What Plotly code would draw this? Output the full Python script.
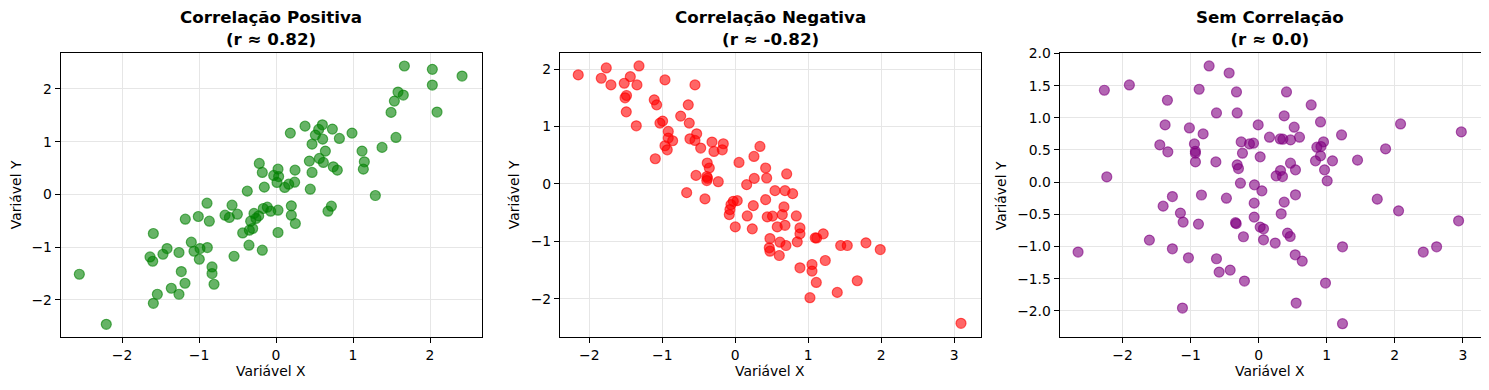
import plotly.graph_objects as go

# page is rendered with an 8px body margin; figure coords = page coords - OFF
OFF = 8
PAGE_W, PAGE_H = 1489, 390
W, H = PAGE_W - OFF, PAGE_H - OFF

# ---------------- data ----------------
pos_x = [-0.217, -0.178, -0.152, -0.373, 1.667, 2.03, 2.416, 2.03, 1.584, 1.653, 1.537, 1.494, 2.091,
         0.186, 0.377, 0.602, 0.554, 0.511, 0.606, 0.732, 0.823, 0.987, 0.468, 0.641, 1.558, 1.377,
         1.117, 1.147, 1.134, 0.433, 0.563, 0.615, 0.744, 0.796, 0.468, 0.247, 0.026, -0.03, 0.034,
         0.013, 0.242, 0.165, 0.113, 0.445, 1.29,
         -0.896, -0.571, -1.178, -1.009, -0.866, -0.662, -0.606, -0.502, -0.286, -0.225, -0.26, -0.329,
         -0.165, -0.113, -0.069, -0.433, -0.346, -0.303, -0.351, -0.178, -0.545, -1.593, -1.1, -1.415,
         -1.468, -1.636, -1.601, -1.26, -1.065, -0.987, -0.892, -0.996, -0.831, -0.831, -0.805, -1.23,
         -1.182, -1.36, -1.26, -1.541, -1.593, -2.554, -2.204,
         0.026, 0.199, 0.199, 0.251, 0.026, 0.719, 0.675]
pos_y = [0.588, 0.417, 0.139, 0.063, 2.435, 2.372, 2.245, 2.074, 1.941, 1.884, 1.77, 1.556, 1.562,
         1.163, 1.295, 1.321, 1.233, 1.125, 1.049, 1.239, 1.062, 1.163, 0.954, 0.822, 1.081, 0.892,
         0.822, 0.619, 0.48, 0.632, 0.683, 0.607, 0.524, 0.461, 0.417, 0.461, 0.48, 0.36, 0.34,
         0.228, 0.233, 0.195, 0.133, 0.1, -0.02,
         -0.165, -0.203, -0.469, -0.418, -0.507, -0.393, -0.436, -0.374, -0.36, -0.406, -0.455, -0.507,
         -0.266, -0.241, -0.317, -0.729, -0.677, -0.645, -0.962, -1.057, -1.171, -0.74, -0.905, -1.025,
         -1.133, -1.184, -1.266, -1.1, -1.076, -1.025, -1.006, -1.228, -1.374, -1.499, -1.702, -1.461,
         -1.683, -1.778, -1.892, -1.892, -2.063, -1.512, -2.461,
         -0.298, -0.216, -0.393, -0.55, -0.721, -0.222, -0.317]

neg_x = [-2.151, -1.767, -1.836, -1.703, -1.319, -1.438, -1.521, -1.347, -1.49, -1.51, -1.493, -1.356,
         -0.963, -0.552, -1.11, -1.077, -0.644, -0.748, -0.63, -0.995, -1.032, -0.918, -0.918, -0.858,
         -0.963, -0.932, -1.096, -0.529, -0.621, -0.552, -0.474, -0.319, -0.292, -0.164, -0.178, -0.384,
         -0.356, -0.39, -0.38, -0.39, -0.538, -0.233, 0.051, 0.256, 0.338, 0.416, 0.43, 0.26, 0.156,
         -0.666, -0.415, -0.027, 0.027, -0.059, -0.073, -0.082, 0.0, 0.164, 0.247, 0.233, 0.416, 0.438,
         0.475, 0.466, 0.475, 0.704, 0.544, 0.681, 0.786, 0.667, 0.644, 0.51, 0.836, 0.575, 0.681,
         0.886, 0.886, 0.612, 0.694, 0.849, 0.603, 1.095, 1.115, 1.205, 1.444, 1.534, 1.79, 1.986,
         0.886, 1.051, 1.051, 1.233, 1.11, 1.397, 1.671, 1.023, 3.092]
neg_y = [1.898, 2.019, 1.84, 1.724, 2.054, 1.868, 1.753, 1.724, 1.54, 1.50, 1.255, 1.012,
         1.811, 1.724, 1.464, 1.377, 1.377, 1.181, 1.059, 1.094, 1.059, 0.914, 0.799, 0.752,
         0.665, 0.595, 0.439, 0.873, 0.786, 0.757, 0.625, 0.729, 0.566, 0.7, 0.595, 0.365,
         0.278, 0.13, 0.10, 0.06, 0.149, 0.04, 0.375, 0.479, 0.653, 0.278, 0.104, 0.097, -0.012,
         -0.151, -0.26, -0.302, -0.29, -0.359, -0.446, -0.533, -0.747, -0.556, -0.377, -0.781, -0.273, -0.573,
         -0.95, -1.111, -1.17, 0.174, -0.116, -0.116, -0.168, -0.399, -0.533, -0.56, -0.556, -0.747, -0.719,
         -0.764, -0.868, -1.013, -1.071, -1.007, -1.245, -0.938, -0.94, -0.868, -1.071, -1.071, -1.025, -1.141,
         -1.459, -1.401, -1.516, -1.332, -1.714, -1.887, -1.684, -1.979, -2.425]

none_x = [-0.728, -0.434, -2.268, -1.9, -1.341, -0.875, -0.326, -0.62, -0.316, -1.375, -1.018, -0.816,
          -0.007, -1.453, -1.335, -0.944, -0.93, -0.93, -0.929, -0.629, -0.257, -0.135, -0.076, -0.238,
          0.022, -0.316, -0.297, -2.232, -0.268, -0.062, -1.268, -0.841, -0.474, 0.409, 0.772, 0.375,
          0.909, 0.522, 0.159, 0.316, 0.356, 0.468, 0.6, 1.218, 0.953, 0.855, 0.915, 0.909, 0.835,
          1.085, 1.453, 1.865, 2.085, 2.978, 0.468, 0.541, 0.321, 0.257, 0.35, 0.968, 1.007, 0.047,
          0.541, 1.743, -0.066, -1.404, -1.15, -1.11, -0.885, -0.34, -0.33, -0.066, 0.022, 0.071,
          -0.224, 0.071, -1.606, -1.268, -1.032, -0.62, -0.581, -0.419, -0.209, -2.654, -1.12, 0.243,
          0.375, 0.331, 0.424, 0.463, 0.537, 0.64, 1.232, 0.982, 0.551, 1.232, 2.056, 2.938, 2.419, 2.615]
none_y = [1.806, 1.697, 1.429, 1.511, 1.273, 1.444, 1.402, 1.076, 1.076, 0.89, 0.843, 0.75,
          0.89, 0.579, 0.471, 0.595, 0.48, 0.45, 0.315, 0.315, 0.626, 0.595, 0.606, 0.45,
          0.393, 0.269, 0.211, 0.082, -0.016, -0.042, -0.224, -0.2, -0.249, 1.402, 1.2, 1.03,
          0.936, 0.854, 0.699, 0.672, 0.668, 0.657, 0.699, 0.734, 0.626, 0.543, 0.553, 0.408, 0.331,
          0.331, 0.342, 0.517, 0.905, 0.781, 0.295, 0.191, 0.18, 0.098, 0.087, 0.191, 0.02, -0.135,
          -0.197, -0.264, -0.326, -0.373, -0.481, -0.621, -0.652, -0.63, -0.645, -0.543, -0.699, -0.725,
          -0.849, -0.896, -0.901, -1.036, -1.176, -1.191, -1.398, -1.367, -1.537, -1.087, -1.957, -0.947,
          -0.311, -0.492, -0.792, -0.845, -1.129, -1.227, -1.005, -1.568, -1.879, -2.2, -0.446, -0.601, -1.087, -1.005]

titles = ["Correlação Positiva<br>(r ≈ 0.82)",
          "Correlação Negativa<br>(r ≈ -0.82)",
          "Sem Correlação<br>(r ≈ 0.0)"]
colors = ["rgba(0,128,0,0.6)", "rgba(255,0,0,0.6)", "rgba(128,0,128,0.6)"]
xlabel = "Variável X"
ylabel = "Variável Y"

xticks = [[-2, -1, 0, 1, 2], [-2, -1, 0, 1, 2, 3], [-2, -1, 0, 1, 2, 3]]
yticks = [[-2, -1, 0, 1, 2], [-2, -1, 0, 1, 2], [-2.0, -1.5, -1.0, -0.5, 0.0, 0.5, 1.0, 1.5, 2.0]]
ytickfmt = ["", "", ".1f"]

# ---------------- layout geometry (page pixels) ----------------
px_x = [(60.7, 482.0), (560.0, 980.7), (1059.7, 1480.5)]
px_top, px_bot = 53.3, 337.0
xranges = [[-2.796, 2.675], [-2.401, 3.362], [-2.924, 3.26]]
yranges = [[-2.702, 2.676], [-2.663, 2.274], [-2.407, 2.003]]
ylabel_px = [16, 514, 1001]
title_py, xlabel_py = 28.5, 371


def fx(p):
    return (p - OFF) / W


def fy(p):
    return 1 - (p - OFF) / H


FONT = "DejaVu Sans"
fig = go.Figure()
series = [(pos_x, pos_y), (neg_x, neg_y), (none_x, none_y)]
annotations = []
layout = dict(width=W, height=H, margin=dict(l=0, r=0, t=0, b=0, autoexpand=False),
              paper_bgcolor="white", plot_bgcolor="white", showlegend=False,
              font=dict(family=FONT, size=13.9, color="black"))

for i, ((xs, ys), col) in enumerate(zip(series, colors)):
    n = "" if i == 0 else str(i + 1)
    fig.add_trace(go.Scatter(x=xs, y=ys, mode="markers", xaxis="x" + n, yaxis="y" + n,
                             marker=dict(size=10, color=col, line=dict(width=1.2, color=col)),
                             hoverinfo="x+y"))
    x0, x1 = px_x[i]
    common = dict(showline=True, mirror=True, linecolor="black", linewidth=1.1,
                  ticks="outside", ticklen=5, tickwidth=1.1, tickcolor="black",
                  showgrid=True, gridcolor="#e6e6e6", gridwidth=1, zeroline=False,
                  automargin=False,
                  tickfont=dict(family=FONT, size=13.9, color="black"))
    layout["xaxis" + n] = dict(domain=[fx(x0), fx(x1)], range=xranges[i], anchor="y" + n,
                               tickvals=xticks[i], **common)
    layout["yaxis" + n] = dict(domain=[fy(px_bot), fy(px_top)], range=yranges[i], anchor="x" + n,
                               tickvals=yticks[i], tickformat=ytickfmt[i], **common)
    cx = fx((x0 + x1) / 2)
    annotations.append(dict(text="<b>" + titles[i].replace("<br>", "</b><br><b>") + "</b>",
                            x=cx, y=fy(title_py), xref="paper", yref="paper",
                            xanchor="center", yanchor="middle", showarrow=False,
                            font=dict(family=FONT, size=16.7, color="black")))
    annotations.append(dict(text=xlabel, x=cx, y=fy(xlabel_py), xref="paper", yref="paper",
                            xanchor="center", yanchor="middle", showarrow=False,
                            font=dict(family=FONT, size=13.9, color="black")))
    annotations.append(dict(text=ylabel, x=fx(ylabel_px[i]), y=fy((px_top + px_bot) / 2),
                            xref="paper", yref="paper", textangle=-90,
                            xanchor="center", yanchor="middle", showarrow=False,
                            font=dict(family=FONT, size=13.9, color="black")))

layout["annotations"] = annotations
fig.update_layout(**layout)
fig.write_html("out.html")
